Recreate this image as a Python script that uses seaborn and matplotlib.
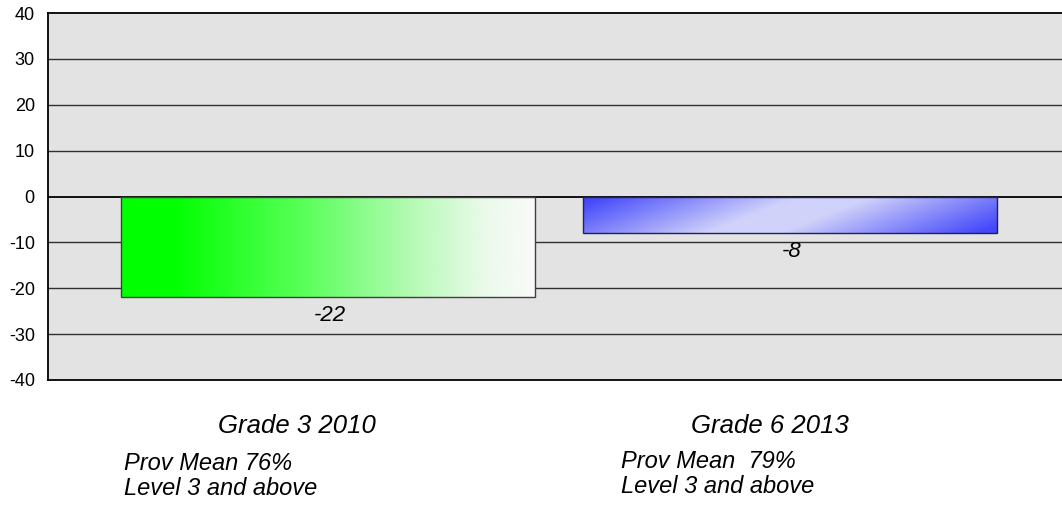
import numpy as np
import pandas as pd
import matplotlib
matplotlib.use("Agg")
import matplotlib.pyplot as plt
import seaborn as sns
from matplotlib.colors import LinearSegmentedColormap

# chart data
categories = ["Grade 3 2010", "Grade 6 2013"]
values = [-22, -8]
notes = ["Prov Mean 76%\nLevel 3 and above", "Prov Mean  79%\nLevel 3 and above"]
yticks = [-40, -30, -20, -10, 0, 10, 20, 30, 40]

df = pd.DataFrame({"cat": categories, "val": values})

sns.set_style("white")
plt.rcParams["font.family"] = ["Liberation Sans", "DejaVu Sans"]
plt.rcParams["text.color"] = "black"

fig = plt.figure(figsize=(10.62, 5.13), dpi=100)
ax = fig.add_axes([48 / 1062, 1 - 380 / 513, 1 - 48 / 1062, 367 / 513])
ax.set_facecolor("#e3e3e3")

sns.barplot(data=df, x="cat", y="val", width=0.896, ax=ax, zorder=3,
            edgecolor="#404040", linewidth=1)

ax.set_ylim(-40, 40)
ax.set_xlim(-0.606, 1.589)
ax.set_yticks(yticks)
ax.set_yticklabels([str(t) for t in yticks], fontsize=13, color="black")
ax.tick_params(axis="y", length=0, pad=9.5)
ax.set_xticks([])
ax.set_xlabel("")
ax.set_ylabel("")
for t in yticks[1:-1]:
    ax.axhline(t, color="#303030" if t != 0 else "#000000",
               lw=1.0 if t != 0 else 1.3, zorder=1)
for s in ["left", "top", "bottom"]:
    ax.spines[s].set_color("#000000")
    ax.spines[s].set_linewidth(1.3)
ax.spines["right"].set_visible(False)

# gradient fills
green = LinearSegmentedColormap.from_list(
    "g", [(0, "#00ff00"), (0.12, "#00ff00"), (0.45, "#5cff5c"),
          (0.7, "#b4fab4"), (0.88, "#eafaea"), (1, "#fafafa")])
blue = LinearSegmentedColormap.from_list("b", ["#4448fa", "#d0d2fa"])
edges = ["#404040", "#20205a"]

for i, p in enumerate(ax.patches[:2]):
    x0, y0 = p.get_x(), p.get_y()
    w, h = p.get_width(), p.get_height()
    nx, ny = 400, 40
    xx, yy = np.meshgrid(np.linspace(0, 1, nx), np.linspace(0, 1, ny))
    if i == 0:
        img = green(xx)
    else:
        hpx = abs(h) * 367 / 80
        wpx = w * 1014 / 2.195
        s = (xx * wpx + yy * hpx * 2.5) / (wpx + hpx * 2.5)
        light = np.clip(1 - (np.abs(s - 0.5) - 0.07) / 0.4, 0, 1)
        img = blue(light)
    im = ax.imshow(img, extent=[x0, x0 + w, y0 + h, y0], origin="upper",
                   aspect="auto", zorder=3.5)
    im.set_clip_path(p)
    p.set_facecolor("none")
    p.set_edgecolor(edges[i])
    p.set_zorder(4)

ax.set_xlim(-0.606, 1.589)
ax.set_ylim(-40, 40)

# value labels
for i, v in enumerate(values):
    ax.text(i + 0.005, v - 1.6, str(v), ha="center", va="top", fontsize=16,
            style="italic", zorder=5)

# category labels and notes
cat_x = [297, 770]
note_x = [124, 621]
note_y = [476, 474]
for i in range(2):
    fig.text(cat_x[i] / 1062, 1 - 426 / 513, categories[i], ha="center",
             va="center", fontsize=18.5, style="italic")
    fig.text(note_x[i] / 1062, 1 - note_y[i] / 513, notes[i],
             ha="left", va="center", fontsize=17, style="italic",
             linespacing=1.1)

fig.savefig("out.png", dpi=100)
